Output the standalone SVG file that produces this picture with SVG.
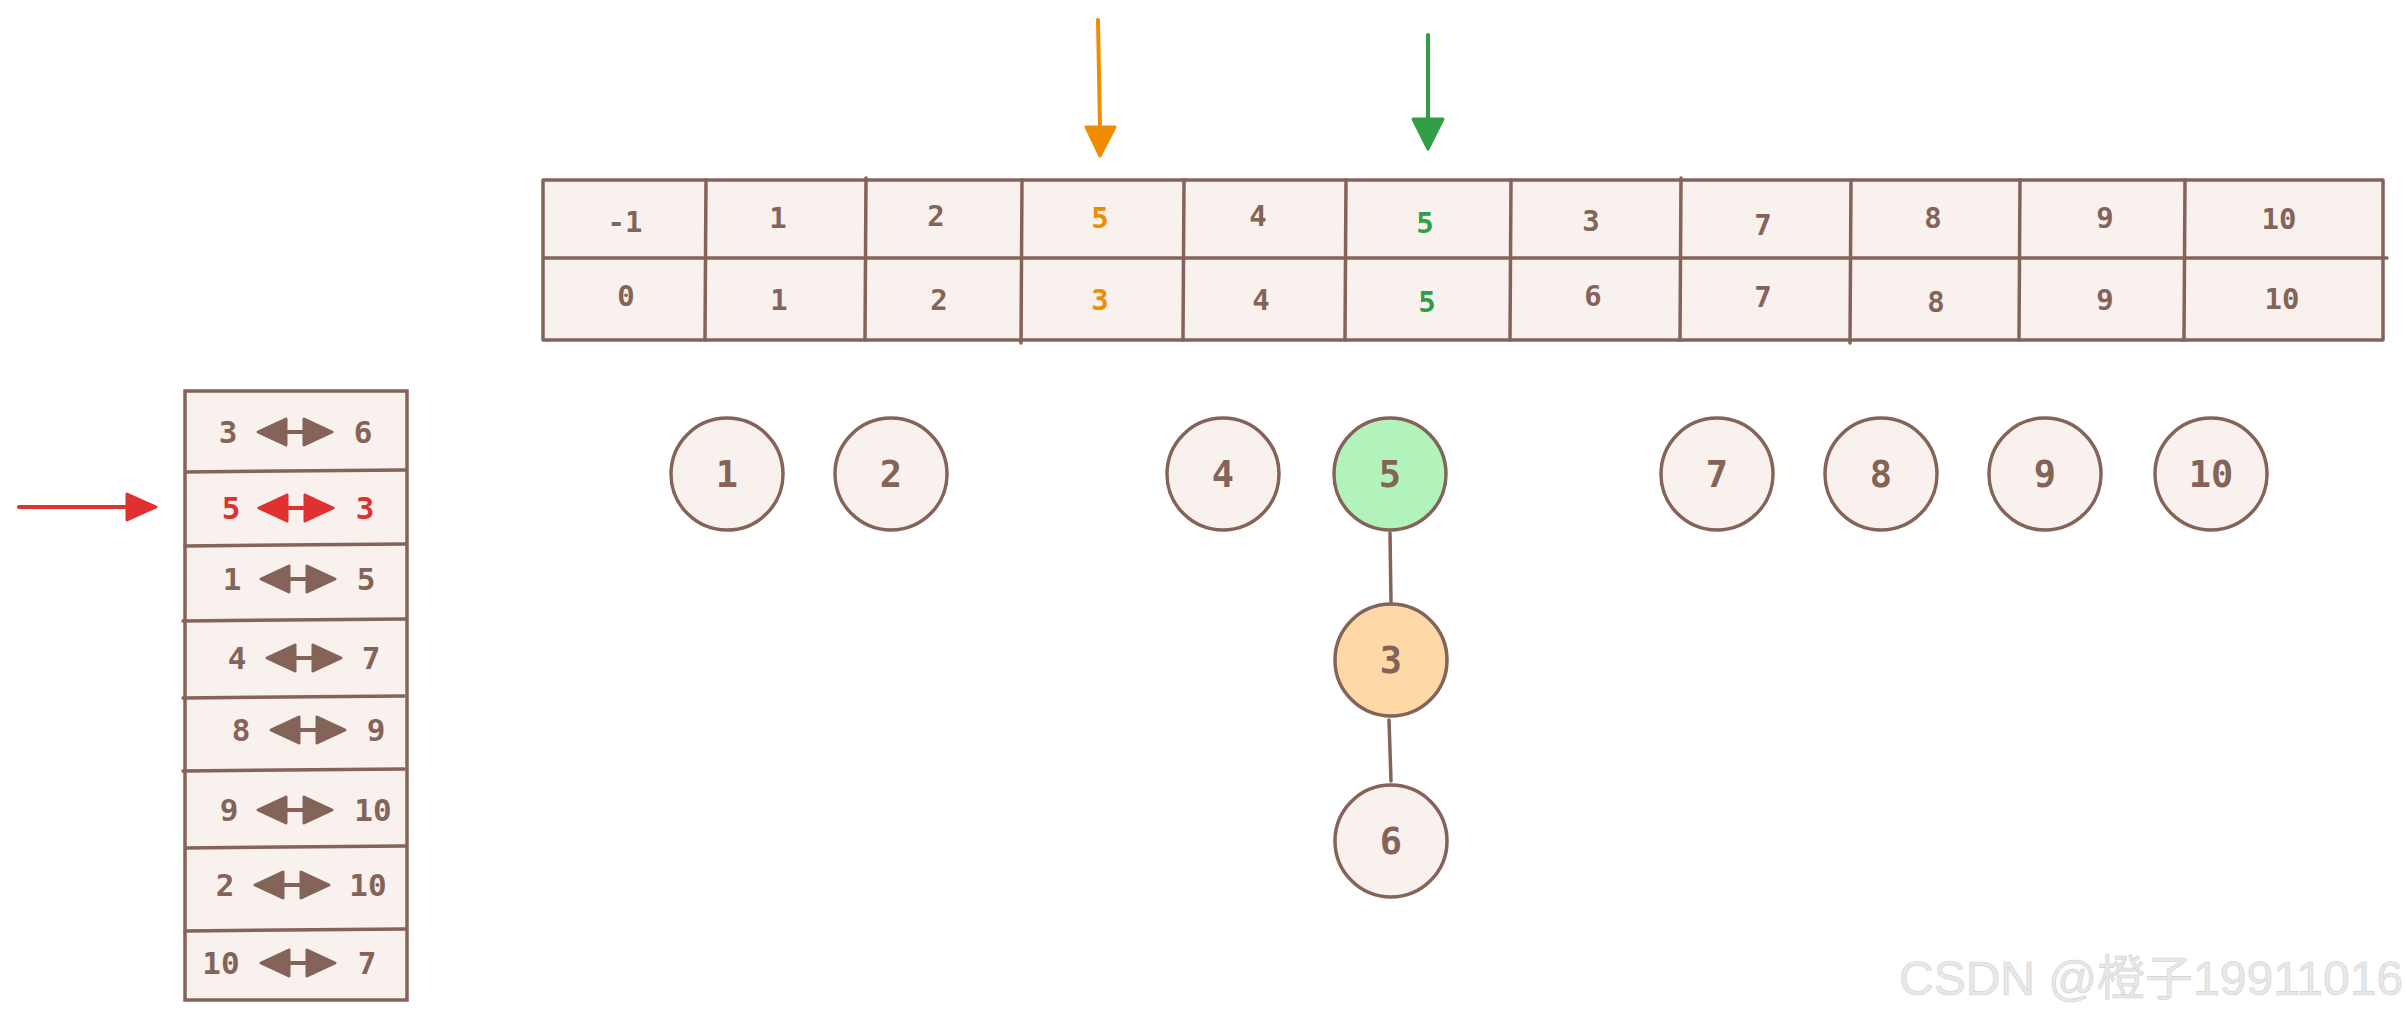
<svg xmlns="http://www.w3.org/2000/svg" width="2406" height="1019" viewBox="0 0 2406 1019">
<style>
.ln{stroke:#846358;stroke-width:3.5;fill:none;stroke-linecap:round}
.cell{fill:#f8f1ee}
.t{font-family:"DejaVu Sans Mono","Liberation Mono",monospace;font-size:29px;font-weight:bold;fill:#846358;text-anchor:middle;dominant-baseline:central}
.s{font-size:31px}
.c{font-size:37px}
.o{fill:#f08c00}
.g{fill:#2f9e44}
.r{fill:#e03131}
.node{stroke:#846358;stroke-width:3.5;fill:#f8f1ee}
.da{fill:#846358;stroke:#846358;stroke-width:3;stroke-linejoin:round}
.dar{fill:#e03131;stroke:#e03131;stroke-width:3;stroke-linejoin:round}
</style>
<defs>
<g id="dbl">
<path d="M-36,0 L36,0" stroke-width="4"/>
<path d="M-37,0 L-9,-13 L-9,13 Z"/>
<path d="M37,0 L9,-13 L9,13 Z"/>
</g>
</defs>
<rect width="2406" height="1019" fill="#ffffff"/>

<g id="table">
<rect class="cell" x="543" y="180" width="1840" height="160"/>
<path class="ln" d="M543,180 L2383,180 M543,258 L2387,258 M543,340 L2383,340 M543,180 L543,340 M2383,180 L2383,340"/>
<path class="ln" d="M706,180 L705,340 M866,178 L865,340 M1022,180 L1021,343 M1184,180 L1183,340 M1346,180 L1345,340 M1511,180 L1510,340 M1681,178 L1680,340 M1851,180 L1850,343 M2020,180 L2019,340 M2185,180 L2184,340"/>
<g id="row-parent">
<text class="t" x="625" y="222">-1</text>
<text class="t" x="778" y="218">1</text>
<text class="t" x="936" y="216">2</text>
<text class="t o" x="1100" y="218">5</text>
<text class="t" x="1258" y="216">4</text>
<text class="t g" x="1425" y="223">5</text>
<text class="t" x="1591" y="221">3</text>
<text class="t" x="1763" y="225">7</text>
<text class="t" x="1933" y="218">8</text>
<text class="t" x="2105" y="218">9</text>
<text class="t" x="2279" y="219">10</text>
</g>
<g id="row-index">
<text class="t" x="626" y="296">0</text>
<text class="t" x="779" y="300">1</text>
<text class="t" x="939" y="300">2</text>
<text class="t o" x="1100" y="300">3</text>
<text class="t" x="1261" y="300">4</text>
<text class="t g" x="1427" y="302">5</text>
<text class="t" x="1593" y="296">6</text>
<text class="t" x="1763" y="297">7</text>
<text class="t" x="1936" y="302">8</text>
<text class="t" x="2105" y="300">9</text>
<text class="t" x="2282" y="299">10</text>
</g>
</g>

<g id="pointers">
<path d="M1098,20 L1100,128" stroke="#f08c00" stroke-width="4" stroke-linecap="round"/>
<path d="M1086,127 L1115,127 L1100,156 Z" fill="#f08c00" stroke="#f08c00" stroke-width="3" stroke-linejoin="round"/>
<path d="M1428,35 L1428,120" stroke="#2f9e44" stroke-width="4" stroke-linecap="round"/>
<path d="M1413,119 L1443,119 L1428,149 Z" fill="#2f9e44" stroke="#2f9e44" stroke-width="3" stroke-linejoin="round"/>
<path d="M19,507 L130,507" stroke="#e03131" stroke-width="4" stroke-linecap="round"/>
<path d="M127,494 L156,507 L127,520 Z" fill="#e03131" stroke="#e03131" stroke-width="3" stroke-linejoin="round"/>
</g>

<g id="edges">
<path class="ln" d="M1390,533 L1391,602"/>
<path class="ln" d="M1389,720 L1391,781"/>
</g>

<g id="node-1"><circle class="node" cx="727" cy="474" r="56"/><text class="t c" x="727" y="474">1</text></g>
<g id="node-2"><circle class="node" cx="891" cy="474" r="56"/><text class="t c" x="891" y="474">2</text></g>
<g id="node-4"><circle class="node" cx="1223" cy="474" r="56"/><text class="t c" x="1223" y="474">4</text></g>
<g id="node-5"><circle class="node" cx="1390" cy="474" r="56" style="fill:#b2f2bb"/><text class="t c" x="1390" y="474">5</text></g>
<g id="node-7"><circle class="node" cx="1717" cy="474" r="56"/><text class="t c" x="1717" y="474">7</text></g>
<g id="node-8"><circle class="node" cx="1881" cy="474" r="56"/><text class="t c" x="1881" y="474">8</text></g>
<g id="node-9"><circle class="node" cx="2045" cy="474" r="56"/><text class="t c" x="2045" y="474">9</text></g>
<g id="node-10"><circle class="node" cx="2211" cy="474" r="56"/><text class="t c" x="2211" y="474">10</text></g>
<g id="node-3"><circle class="node" cx="1391" cy="660" r="56" style="fill:#ffd8a8"/><text class="t c" x="1391" y="660">3</text></g>
<g id="node-6"><circle class="node" cx="1391" cy="841" r="56"/><text class="t c" x="1391" y="841">6</text></g>

<g id="stack">
<rect class="cell" x="185" y="391" width="222" height="609"/>
<path class="ln" d="M185,391 L407,391 L407,1000 L185,1000 Z"/>
<path class="ln" d="M185,472 L405,470 M185,546 L405,544 M183,621 L405,619 M183,698 L404,696 M183,771 L404,769 M185,848 L405,846 M185,931 L405,929"/>
<g id="pair-1"><text class="t s" x="228" y="432">3</text><use href="#dbl" x="295" y="432" class="da"/><text class="t s" x="363" y="432">6</text></g>
<g id="pair-2"><text class="t s r" x="231" y="508">5</text><use href="#dbl" x="296" y="508" class="dar"/><text class="t s r" x="365" y="508">3</text></g>
<g id="pair-3"><text class="t s" x="232" y="579">1</text><use href="#dbl" x="298" y="579" class="da"/><text class="t s" x="366" y="579">5</text></g>
<g id="pair-4"><text class="t s" x="237" y="658">4</text><use href="#dbl" x="304" y="658" class="da"/><text class="t s" x="371" y="658">7</text></g>
<g id="pair-5"><text class="t s" x="241" y="730">8</text><use href="#dbl" x="308" y="730" class="da"/><text class="t s" x="376" y="730">9</text></g>
<g id="pair-6"><text class="t s" x="229" y="810">9</text><use href="#dbl" x="295" y="810" class="da"/><text class="t s" x="373" y="810">10</text></g>
<g id="pair-7"><text class="t s" x="225" y="885">2</text><use href="#dbl" x="292" y="885" class="da"/><text class="t s" x="368" y="885">10</text></g>
<g id="pair-8"><text class="t s" x="221" y="963">10</text><use href="#dbl" x="298" y="963" class="da"/><text class="t s" x="367" y="963">7</text></g>
</g>

<text x="1899" y="995" font-family="'Liberation Sans','Noto Sans CJK SC',sans-serif" font-size="48" fill="#e8e8e8" stroke="#d2d2d2" stroke-width="0.6">CSDN @橙子19911016</text>
</svg>
